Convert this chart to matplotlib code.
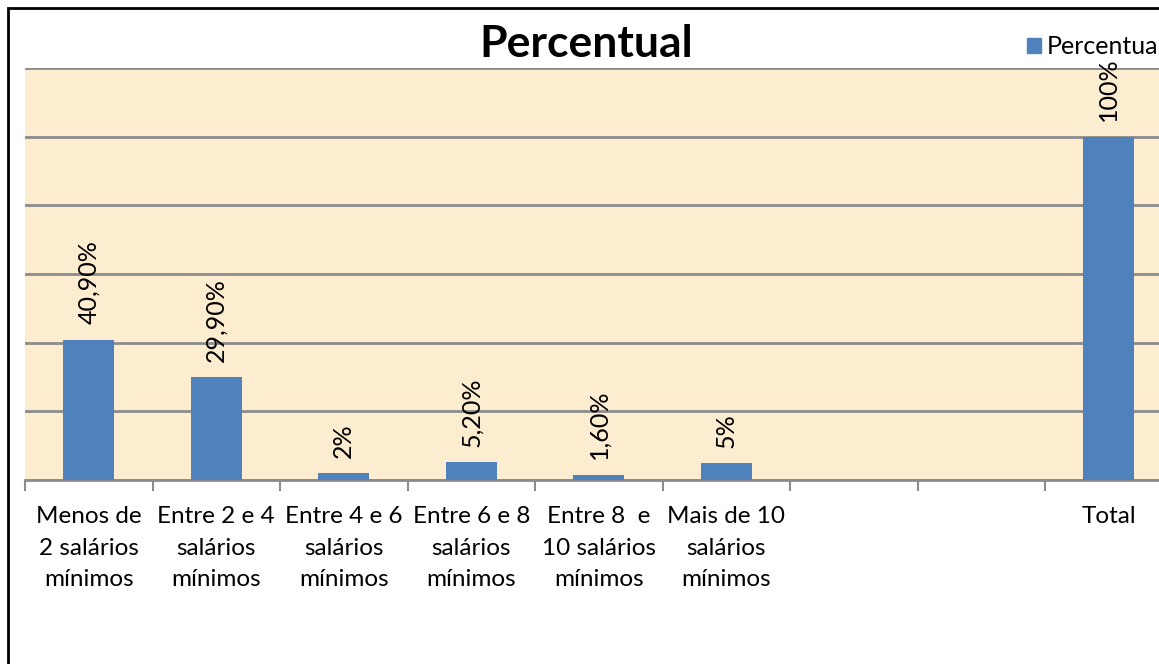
import numpy as np
import matplotlib.pyplot as plt
from matplotlib.patches import Rectangle

categories = ["Menos de\n2 salários\nmínimos", "Entre 2 e 4\nsalários\nmínimos",
              "Entre 4 e 6\nsalários\nmínimos", "Entre 6 e 8\nsalários\nmínimos",
              "Entre 8  e\n10 salários\nmínimos", "Mais de 10\nsalários\nmínimos",
              "", "", "Total"]
values = [40.9, 29.9, 2.0, 5.2, 1.6, 5.0, np.nan, np.nan, 100.0]
value_labels = ["40,90%", "29,90%", "2%", "5,20%", "1,60%", "5%", "", "", "100%"]

plt.rcParams['font.family'] = ['Lato', 'DejaVu Sans']

W, H = 1159, 664
fig = plt.figure(figsize=(W / 100, H / 100), dpi=100)

# plot area in pixels: x 25 -> 1172.5, y 68 -> 480
ax = fig.add_axes([25 / W, (H - 480) / H, 1147.5 / W, 412 / H])
ax.set_facecolor("#fdedd0")

x = np.arange(len(categories))
ax.bar(x, values, width=0.4, color="#4f81bd", zorder=3)

ax.set_xlim(-0.5, len(categories) - 0.5)
ax.set_ylim(0, 120)
ax.set_yticks(np.arange(0, 121, 20))
ax.yaxis.grid(True, color="#8c8c8c", linewidth=2, zorder=1)
ax.tick_params(axis="y", left=False, labelleft=False)

ax.set_xticks(x)
ax.set_xticklabels(categories, fontsize=17.5, linespacing=1.62)
ax.set_xticks(np.arange(-0.5, len(categories), 1), minor=True)
ax.tick_params(axis="x", which="major", length=0, pad=19)
ax.tick_params(axis="x", which="minor", length=8, width=1.5, color="#8c8c8c")

for side in ["left", "right", "top"]:
    ax.spines[side].set_visible(False)
ax.spines["bottom"].set_color("#8c8c8c")
ax.spines["bottom"].set_linewidth(2)

for xi, v, lab in zip(x, values, value_labels):
    if lab:
        ax.annotate(lab, (xi, v), xytext=(0, 11), textcoords="offset points",
                    rotation=90, ha="center", va="bottom", fontsize=18)

fig.text(586 / W, 1 - 44 / H, "Percentual", ha="center", va="center",
         fontsize=32, fontweight="bold")

# legend (clipped at the right edge like the reference)
fig.patches.append(Rectangle((1027 / W, 1 - 53 / H), 14 / W, 15 / H,
                             transform=fig.transFigure, color="#4f81bd"))
fig.text(1047 / W, 1 - 46 / H, "Percentual", ha="left", va="center", fontsize=18)

# chart border
fig.patches.append(Rectangle((8 / W, -0.05), 1.2, (H - 8) / H + 0.05,
                             transform=fig.transFigure, fill=False,
                             edgecolor="black", linewidth=2))

fig.savefig("out.png", dpi=100)
